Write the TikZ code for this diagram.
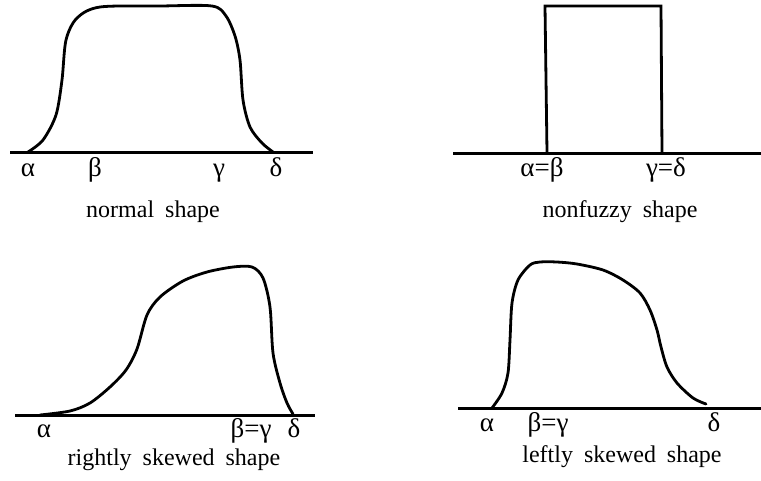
\documentclass[tikz,border=0pt]{standalone}
\usepackage{fontspec}
\setmainfont{Liberation Serif}
\newcommand{\wgap}{\hspace{11pt}}
\begin{document}
\begin{tikzpicture}[x=1pt,y=-1pt,
  axisline/.style={line width=3pt},
  mf/.style={line width=2.8pt, line join=round, line cap=round},
  greek/.style={anchor=base, inner sep=0pt, font=\fontsize{27}{27}\selectfont},
  caption/.style={anchor=base, inner sep=0pt, font=\fontsize{24}{24}\selectfont}]
\useasboundingbox (0,0) rectangle (761,480);
% ---------- normal shape ----------
\coordinate (n1) at (10,152); \coordinate (n2) at (313,152);
\draw[axisline] (n1) -- (n2);
\draw[mf] plot[smooth, tension=0.5] coordinates {(28,152) (43,140) (56,115) (62,80) (66,40) (77,18) (100,7) (160,6) (212,6) (226,16) (235,36) (240,60) (243,100) (250,127) (262,143) (273,152)};
\node[greek] (na) at (28,176) {α};
\node[greek] (nb) at (95,176) {β};
\node[greek] (ng) at (219,176) {γ};
\node[greek] (nd) at (276,176) {δ};
\node[caption] (ncap) at (153,217) {normal\wgap shape};
% ---------- nonfuzzy shape ----------
\coordinate (f1) at (453,153); \coordinate (f2) at (761,153);
\draw[axisline] (f1) -- (f2);
\coordinate (fa) at (547,152); \coordinate (fb) at (545,6);
\coordinate (fc) at (661,6); \coordinate (fd) at (662,152);
\draw[mf, line cap=butt, line join=miter] (fa) -- (fb) -- (fc) -- (fd);
\node[greek] (fab) at (542,176) {α=β};
\node[greek] (fgd) at (666,176) {γ=δ};
\node[caption] (fcap) at (620,217) {nonfuzzy\wgap shape};
% ---------- rightly skewed shape ----------
\coordinate (r1) at (15,415); \coordinate (r2) at (315,415);
\draw[axisline] (r1) -- (r2);
\draw[mf] plot[smooth, tension=0.5] coordinates {(40,415) (70,411) (90,403) (110,387) (126,370) (137,349) (147,315) (160,297) (183,281) (207,272) (233,267) (252,267) (263,278) (270,307) (273,353) (280,383) (287,403) (293,414)};
\node[greek] (ra) at (44,437) {α};
\node[greek] (rbg) at (251,437) {β=γ};
\node[greek] (rd) at (294,437) {δ};
\node[caption] (rcap) at (174,465) {rightly\wgap skewed\wgap shape};
% ---------- leftly skewed shape ----------
\coordinate (l1) at (458,408); \coordinate (l2) at (761,408);
\draw[axisline] (l1) -- (l2);
\draw[mf] plot[smooth, tension=0.5] coordinates {(492,408) (502,393) (508,373) (510,340) (512,303) (518,280) (530,265) (540,262) (557,262) (577,264) (603,270) (623,280) (640,293) (650,310) (657,330) (661,347) (667,367) (677,383) (693,398) (706,404)};
\node[greek] (la) at (487,431) {α};
\node[greek] (lbg) at (548,431) {β=γ};
\node[greek] (ld) at (714,431) {δ};
\node[caption] (lcap) at (622,462) {leftly\wgap skewed\wgap shape};
\end{tikzpicture}
\end{document}
